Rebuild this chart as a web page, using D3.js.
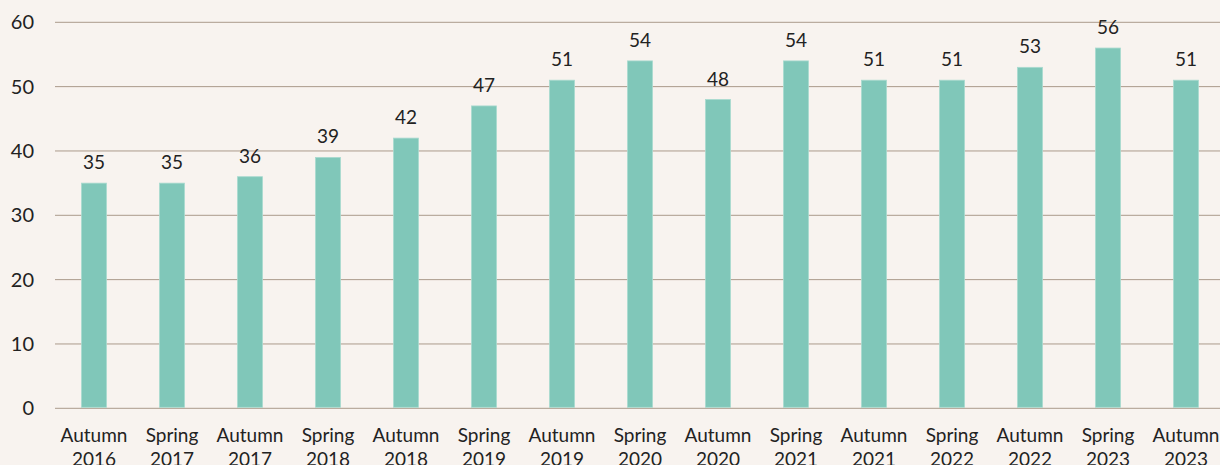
<!DOCTYPE html>
<html>
<head>
<meta charset="utf-8">
<script src="https://cdn.jsdelivr.net/npm/d3@7"></script>
<style>
  body { margin: 0; background: #f8f3ef; }
  svg { display: block; font-family: Lato, "Noto Sans", sans-serif; }
</style>
</head>
<body>
<div id="chart"></div>
<script>
"use strict";

var seasons = ["Autumn", "Spring", "Autumn", "Spring", "Autumn", "Spring", "Autumn", "Spring",
               "Autumn", "Spring", "Autumn", "Spring", "Autumn", "Spring", "Autumn"];
var years = ["2016", "2017", "2017", "2018", "2018", "2019", "2019", "2020",
             "2020", "2021", "2021", "2022", "2022", "2023", "2023"];
var values = [35, 35, 36, 39, 42, 47, 51, 54, 48, 54, 51, 51, 53, 56, 51];
var yTicks = [0, 10, 20, 30, 40, 50, 60];

var width = 1220;
var height = 465;
var margin = {top: 22, right: -5, bottom: 57, left: 55};

var data = values.map(function(v, i) {
    return {label: seasons[i] + " " + years[i], season: seasons[i], year: years[i], value: v};
});

var x = d3.scaleBand()
    .domain(data.map(function(d) { return d.label; }))
    .range([margin.left, width - margin.right])
    .paddingInner(0.68)
    .paddingOuter(0.34);

var y = d3.scaleLinear()
    .domain([0, 60])
    .range([height - margin.bottom + 0.3, margin.top + 0.3]);

var svg = d3.select("#chart")
    .append("svg")
    .attr("width", width)
    .attr("height", height);

svg.append("rect")
    .attr("width", width)
    .attr("height", height)
    .attr("fill", "#f8f3ef");

// grid lines
svg.append("g")
    .selectAll("line")
    .data(yTicks)
    .enter().append("line")
    .attr("x1", margin.left)
    .attr("x2", width)
    .attr("y1", function(d) { return y(d); })
    .attr("y2", function(d) { return y(d); })
    .attr("stroke", "#ab9a8b")
    .attr("stroke-width", 1);

// y labels
svg.append("g")
    .selectAll("text")
    .data(yTicks)
    .enter().append("text")
    .attr("x", 34)
    .attr("y", function(d) { return y(d); })
    .attr("dy", "0.35em")
    .attr("text-anchor", "end")
    .attr("font-size", 20)
    .attr("fill", "#222")
    .text(function(d) { return d; });

// bars
svg.append("g")
    .selectAll("rect")
    .data(data)
    .enter().append("rect")
    .attr("x", function(d) { return x(d.label); })
    .attr("y", function(d) { return y(d.value); })
    .attr("width", x.bandwidth())
    .attr("height", function(d) { return y(0) - 1 - y(d.value); })
    .attr("fill", "#80c7b9")
    .attr("stroke", "#a9dacf")
    .attr("stroke-width", 0.8);

// value labels
svg.append("g")
    .selectAll("text")
    .data(data)
    .enter().append("text")
    .attr("x", function(d) { return x(d.label) + x.bandwidth() / 2; })
    .attr("y", function(d) { return y(d.value) - 14; })
    .attr("text-anchor", "middle")
    .attr("font-size", 19)
    .attr("fill", "#222")
    .text(function(d) { return d.value; });

// x labels
var xl = svg.append("g")
    .selectAll("text")
    .data(data)
    .enter().append("text")
    .attr("text-anchor", "middle")
    .attr("font-size", 19)
    .attr("fill", "#222");

xl.append("tspan")
    .attr("x", function(d) { return x(d.label) + x.bandwidth() / 2; })
    .attr("y", 442)
    .text(function(d) { return d.season; });

xl.append("tspan")
    .attr("x", function(d) { return x(d.label) + x.bandwidth() / 2; })
    .attr("y", 466)
    .text(function(d) { return d.year; });
</script>
</body>
</html>
